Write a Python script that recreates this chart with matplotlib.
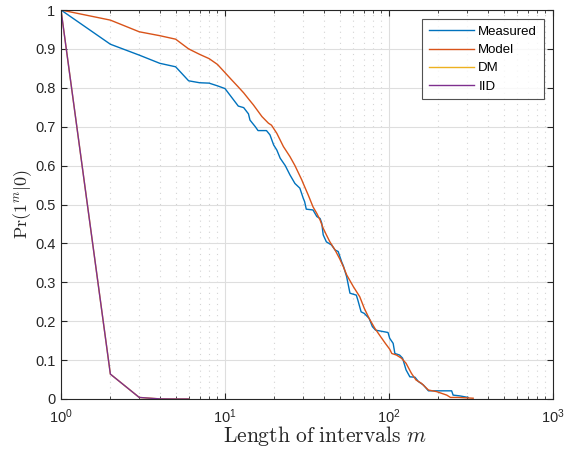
import numpy as np
import matplotlib
matplotlib.use("Agg")
import matplotlib.pyplot as plt
from matplotlib.ticker import LogLocator, NullFormatter

plt.rcParams['font.family'] = ['Liberation Sans', 'DejaVu Sans']
plt.rcParams['mathtext.fontset'] = 'custom'
plt.rcParams['mathtext.rm'] = 'Liberation Sans'
plt.rcParams['mathtext.it'] = 'Liberation Sans:italic'

# ---- data ----
meas_m = [1, 2, 3, 4, 5, 6, 7, 8, 9, 10, 12.05, 13, 13.9, 14.2, 15.3, 15.9, 17.9, 18.8, 19.8, 20.7,
          21.7, 23.3, 24.9, 26.7, 28.6, 30, 30.6, 31.3, 34.4, 36.3, 38, 38.9, 39.7, 41.5, 44.6,
          46.9, 49, 51.4, 52.7, 55.2, 57.8, 63.2, 64.6, 67.6, 70.7, 75.7, 79.2, 82.8, 98.6, 101,
          106, 108.6, 116, 121, 127, 134, 144, 151, 162, 174, 241, 246, 270, 304]
meas_p = [1.0, 0.912, 0.884, 0.863, 0.854, 0.818, 0.813, 0.812, 0.805, 0.798, 0.753, 0.749, 0.733,
          0.717, 0.700, 0.690, 0.690, 0.679, 0.653, 0.640, 0.619, 0.600, 0.576, 0.554, 0.542,
          0.516, 0.507, 0.488, 0.486, 0.469, 0.464, 0.452, 0.422, 0.404, 0.396, 0.383, 0.379,
          0.353, 0.342, 0.314, 0.272, 0.267, 0.254, 0.224, 0.220, 0.207, 0.186, 0.177, 0.171,
          0.156, 0.143, 0.117, 0.113, 0.105, 0.075, 0.057, 0.056, 0.045, 0.036, 0.021, 0.021,
          0.010, 0.008, 0.004]

model_m = [1, 2, 3, 4, 5, 6, 7, 8, 9, 10, 11, 12, 13, 14, 14.9, 16.8, 18.4, 19.2, 20.7, 22.7, 24.9,
           26.7, 29.4, 30, 32.2, 34.4, 36.3, 38, 39.7, 41.5, 43.6, 46.9, 50.1, 52.7, 55.2, 60.6,
           66.3, 70.7, 75.7, 81.9, 88.3, 95, 101, 104, 111, 119, 127, 137, 146, 158, 174, 195,
           225, 237, 265, 326]
model_p = [1.0, 0.974, 0.944, 0.934, 0.925, 0.900, 0.886, 0.875, 0.860, 0.839, 0.820, 0.803, 0.787,
           0.770, 0.756, 0.726, 0.709, 0.704, 0.683, 0.649, 0.623, 0.600, 0.563, 0.554, 0.524,
           0.494, 0.477, 0.460, 0.439, 0.422, 0.404, 0.383, 0.360, 0.340, 0.319, 0.289, 0.263,
           0.233, 0.207, 0.182, 0.162, 0.143, 0.128, 0.117, 0.113, 0.105, 0.092, 0.066, 0.049,
           0.040, 0.023, 0.019, 0.010, 0.004, 0.004, 0.002]

dm_m = [1, 2, 3, 4, 5, 6]
dm_p = [1.0, 0.064, 0.004, 0.0003, 0.0, 0.0]
iid_m = [1, 2, 3, 4, 5, 6]
iid_p = [1.0, 0.064, 0.004, 0.0003, 0.0, 0.0]

labels = ['Measured', 'Model', 'DM', 'IID']
colors = ['#0072BD', '#D95319', '#EDB120', '#7E2F8E']
yticks = [0, 0.1, 0.2, 0.3, 0.4, 0.5, 0.6, 0.7, 0.8, 0.9, 1]
ytick_labels = ['0', '0.1', '0.2', '0.3', '0.4', '0.5', '0.6', '0.7', '0.8', '0.9', '1']

fig = plt.figure(figsize=(5.65, 4.53), dpi=100)
ax = fig.add_axes([61/565, 1 - 399/453, (553-61)/565, (399-10)/453])

lw = 1.0
ax.plot(meas_m, meas_p, color=colors[0], lw=lw, label=labels[0])
ax.plot(model_m, model_p, color=colors[1], lw=lw, label=labels[1])
ax.plot(dm_m, dm_p, color=colors[2], lw=lw, label=labels[2])
ax.plot(iid_m, iid_p, color=colors[3], lw=lw, label=labels[3])

ax.set_xscale('log')
ax.set_xlim(1, 1000)
ax.set_ylim(0, 1)
ax.set_yticks(yticks)
ax.set_yticklabels(ytick_labels)
ax.xaxis.set_major_locator(LogLocator(base=10, numticks=10))
ax.xaxis.set_minor_locator(LogLocator(base=10, subs=np.arange(2, 10), numticks=20))
ax.xaxis.set_minor_formatter(NullFormatter())

ax.grid(True, which='major', color='#dedede', lw=0.8, ls='-')
ax.grid(True, which='minor', axis='x', color='#d4d4d4', lw=0.8, ls=(0, (1, 4)))
ax.set_axisbelow(True)

ax.tick_params(which='both', direction='in', top=True, right=True, labelsize=10.5,
               color='#262626', labelcolor='#262626')
ax.tick_params(which='major', length=4)
ax.tick_params(which='minor', length=2.5)
ax.tick_params(axis='x', which='major', pad=6)
ax.tick_params(axis='y', which='major', pad=4)
for sp in ax.spines.values():
    sp.set_color('#262626')
    sp.set_linewidth(0.8)

ax.set_xlabel(r'$\mathrm{Length\ of\ intervals}\ m$', fontsize=15.5, math_fontfamily='cm',
              color='#262626')
ax.xaxis.set_label_coords(0.537, -0.065)
ax.set_ylabel(r'$\mathrm{Pr}(1^m|0)$', fontsize=13, math_fontfamily='cm', color='#262626',
              labelpad=1)

leg = ax.legend(loc='upper right', fontsize=9.5, frameon=True, fancybox=False,
                edgecolor='#262626', handlelength=3.4, borderaxespad=0.7,
                labelspacing=0.45, handletextpad=0.35, borderpad=0.5)
leg.get_frame().set_linewidth(0.8)

fig.savefig('out.png', dpi=100)
